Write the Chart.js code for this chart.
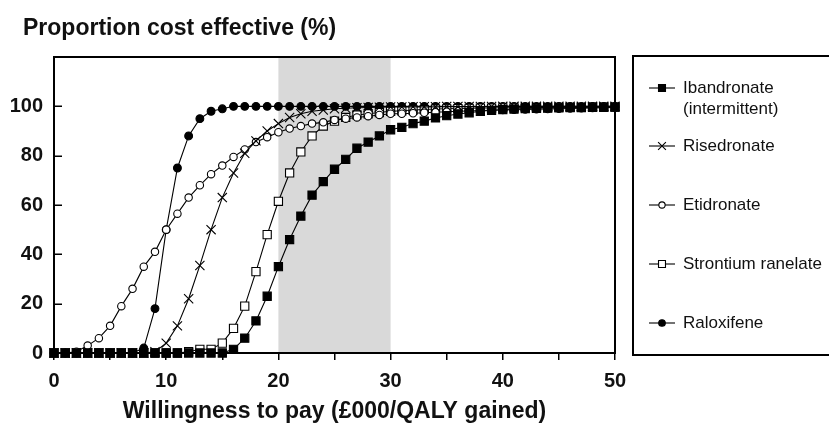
<!DOCTYPE html>
<html>
<head>
<meta charset="utf-8">
<script src="https://cdn.jsdelivr.net/npm/chart.js@4.4.0/dist/chart.umd.min.js"></script>
<style>
  html, body { margin: 0; padding: 0; background: #fff; }
  #wrap { width: 829px; height: 426px; position: relative; }
</style>
</head>
<body>
<div id="wrap"><canvas id="c" width="829" height="426"></canvas></div>
<script>
// Willingness to pay, £000 per QALY gained
const wtp = [0,1,2,3,4,5,6,7,8,9,10,11,12,13,14,15,16,17,18,19,20,21,22,23,24,25,26,27,28,29,30,31,32,33,34,35,36,37,38,39,40,41,42,43,44,45,46,47,48,49,50];

// Proportion of simulations cost effective (%)
const ibandronate = [0,0,0,0,0,0,0,0,0,0,0,0,0,0,0,0,1.5,6,13,23,35,46,55.5,64,69.5,74.5,78.5,83,85.5,88,90.5,91.5,93,94,95.3,96.2,96.9,97.4,98,98.4,98.7,98.9,99.1,99.2,99.3,99.4,99.5,99.5,99.6,99.6,99.7];
const risedronate = [0,0,0,0,0,0,0,0,0,0.5,4,11,22,35.5,50,63,73,81,86,90,93,95.5,97,98,98.5,99,99.2,99.4,99.5,99.6,99.7,99.7,99.8,99.8,99.8,99.9,99.9,99.9,99.9,99.9,100,100,100,100,100,100,100,100,100,100,100];
const etidronate = [0,0,0.5,3,6,11,19,26,35,41,50,56.5,63,68,72.5,76,79.5,82.5,85.5,87.5,89.5,91,92,93,93.5,94.5,95,95.5,96,96.5,97,97,97.2,97.4,97.6,97.8,98,98.1,98.3,98.4,98.5,98.6,98.7,98.8,98.9,99,99.1,99.2,99.3,99.4,99.5];
const strontium = [0,0,0,0,0,0,0,0,0,0,0,0,0.5,1.5,1.5,4,10,19,33,48,61.5,73,81.5,88,92,94,95.5,96.5,97,97.5,98,98.2,98.5,98.7,98.9,99,99.1,99.2,99.3,99.3,99.4,99.4,99.5,99.5,99.5,99.6,99.6,99.6,99.7,99.7,99.7];
const raloxifene = [0,0,0,0,0,0,0,0,2,18,50,75,88,95,98,99,100,100,100,100,100,100,100,100,100,100,100,100,100,100,100,100,100,100,100,100,100,100,100,100,100,100,100,100,100,100,100,100,100,100,100];

const seriesNames = ['Ibandronate (intermittent)', 'Risedronate', 'Etidronate', 'Strontium ranelate', 'Raloxifene'];
const xTickLabels = [0, 10, 20, 30, 40, 50];
const yTickLabels = [0, 20, 40, 60, 80, 100];
const shadedBand = [20, 30];

const FONT = '"Liberation Sans", Arial, Helvetica, sans-serif';

function toPoints(values) {
  return values.map((v, i) => ({ x: wtp[i], y: v }));
}

const markerStyles = [
  { pointStyle: 'rect',     pointRadius: 5.8, pointBackgroundColor: '#000' },
  { pointStyle: 'crossRot', pointRadius: 6.5, pointBackgroundColor: '#000' },
  { pointStyle: 'circle',   pointRadius: 3.7, pointBackgroundColor: '#fff' },
  { pointStyle: 'rect',     pointRadius: 5.8, pointBackgroundColor: '#fff' },
  { pointStyle: 'circle',   pointRadius: 3.9, pointBackgroundColor: '#000' }
];
const seriesValues = [ibandronate, risedronate, etidronate, strontium, raloxifene];

const datasets = seriesValues.map((vals, i) => Object.assign({
  label: seriesNames[i],
  data: toPoints(vals),
  borderColor: '#000',
  borderWidth: 1.1,
  pointBorderColor: '#000',
  pointBorderWidth: 1.1,
  pointHoverRadius: 0,
  tension: 0,
  clip: false
}, markerStyles[i]));

// Grey band for the 20-30 threshold range, closed plot frame and inward y ticks
const bandPlugin = {
  id: 'band',
  beforeDatasetsDraw(chart) {
    const { ctx, chartArea: a, scales: { x, y } } = chart;
    const x0 = x.getPixelForValue(shadedBand[0]);
    const x1 = x.getPixelForValue(shadedBand[1]);
    ctx.save();
    ctx.fillStyle = '#d9d9d9';
    ctx.fillRect(x0, a.top + 1, x1 - x0, a.bottom - a.top - 2);
    ctx.strokeStyle = '#000';
    ctx.lineWidth = 2;
    ctx.strokeRect(a.left, a.top, a.right - a.left, a.bottom - a.top);
    ctx.lineWidth = 1.5;
    ctx.beginPath();
    yTickLabels.forEach(v => {
      const py = Math.round(y.getPixelForValue(v)) + 0.25;
      ctx.moveTo(a.left, py);
      ctx.lineTo(a.left + 8, py);
    });
    ctx.stroke();
    ctx.restore();
  }
};

// Axis heading above the plot
const headingPlugin = {
  id: 'heading',
  afterDraw(chart) {
    const ctx = chart.ctx;
    ctx.save();
    ctx.fillStyle = '#111';
    ctx.font = 'bold 23px ' + FONT;
    ctx.textAlign = 'left';
    ctx.textBaseline = 'alphabetic';
    ctx.fillText('Proportion cost effective (%)', 23, 35);
    ctx.restore();
  }
};

// Boxed legend on the right
const legendPlugin = {
  id: 'boxLegend',
  afterDraw(chart) {
    const ctx = chart.ctx;
    const rowY = [88, 146, 205, 264, 323];
    ctx.save();
    ctx.strokeStyle = '#000';
    ctx.lineWidth = 2;
    ctx.strokeRect(633, 56, 220, 299);
    ctx.font = '17px ' + FONT;
    ctx.fillStyle = '#111';
    ctx.textAlign = 'left';
    ctx.textBaseline = 'middle';
    chart.data.datasets.forEach((ds, i) => {
      const y = rowY[i];
      ctx.beginPath();
      ctx.moveTo(649, y);
      ctx.lineTo(675, y);
      ctx.lineWidth = 1.1;
      ctx.strokeStyle = '#000';
      ctx.stroke();
      ctx.fillStyle = ds.pointBackgroundColor;
      ctx.strokeStyle = '#000';
      Chart.helpers.drawPoint(ctx, {
        pointStyle: ds.pointStyle,
        radius: ds.pointRadius * 0.85,
        borderWidth: 1.1,
        rotation: 0
      }, 662, y);
      ctx.fillStyle = '#111';
      const parts = ds.label === 'Ibandronate (intermittent)' ? ['Ibandronate', '(intermittent)'] : [ds.label];
      parts.forEach((t, k) => ctx.fillText(t, 683, y + k * 21));
    });
    ctx.restore();
  }
};

new Chart(document.getElementById('c'), {
  type: 'line',
  data: { datasets },
  plugins: [bandPlugin, headingPlugin, legendPlugin],
  options: {
    responsive: false,
    animation: false,
    events: [],
    layout: { padding: { top: 57, right: 214, left: 0, bottom: 0 } },
    plugins: { legend: { display: false }, tooltip: { enabled: false }, title: { display: false } },
    scales: {
      x: {
        type: 'linear',
        min: 0,
        max: 50,
        afterFit(scale) { scale.height = 73; },
        border: { display: true, color: '#000', width: 2 },
        grid: { drawOnChartArea: false, drawTicks: true, tickLength: 7, color: '#000', lineWidth: 1.5 },
        ticks: {
          stepSize: 5,
          padding: 9,
          color: '#111',
          font: { family: FONT, size: 20, weight: 'bold' },
          maxRotation: 0,
          autoSkip: false,
          callback: v => (xTickLabels.includes(v) ? String(v) : '')
        },
        title: {
          display: true,
          text: 'Willingness to pay (£000/QALY gained)',
          color: '#111',
          font: { family: FONT, size: 23, weight: 'bold' },
          padding: { top: 0, bottom: 1 }
        }
      },
      y: {
        min: 0,
        max: 120,
        afterFit(scale) { scale.width = 54; },
        border: { display: true, color: '#000', width: 2 },
        grid: { drawOnChartArea: false, drawTicks: false },
        ticks: {
          stepSize: 20,
          padding: 11,
          color: '#111',
          font: { family: FONT, size: 20, weight: 'bold' },
          callback: v => (yTickLabels.includes(v) ? String(v) : '')
        }
      }
    }
  }
});
</script>
</body>
</html>
